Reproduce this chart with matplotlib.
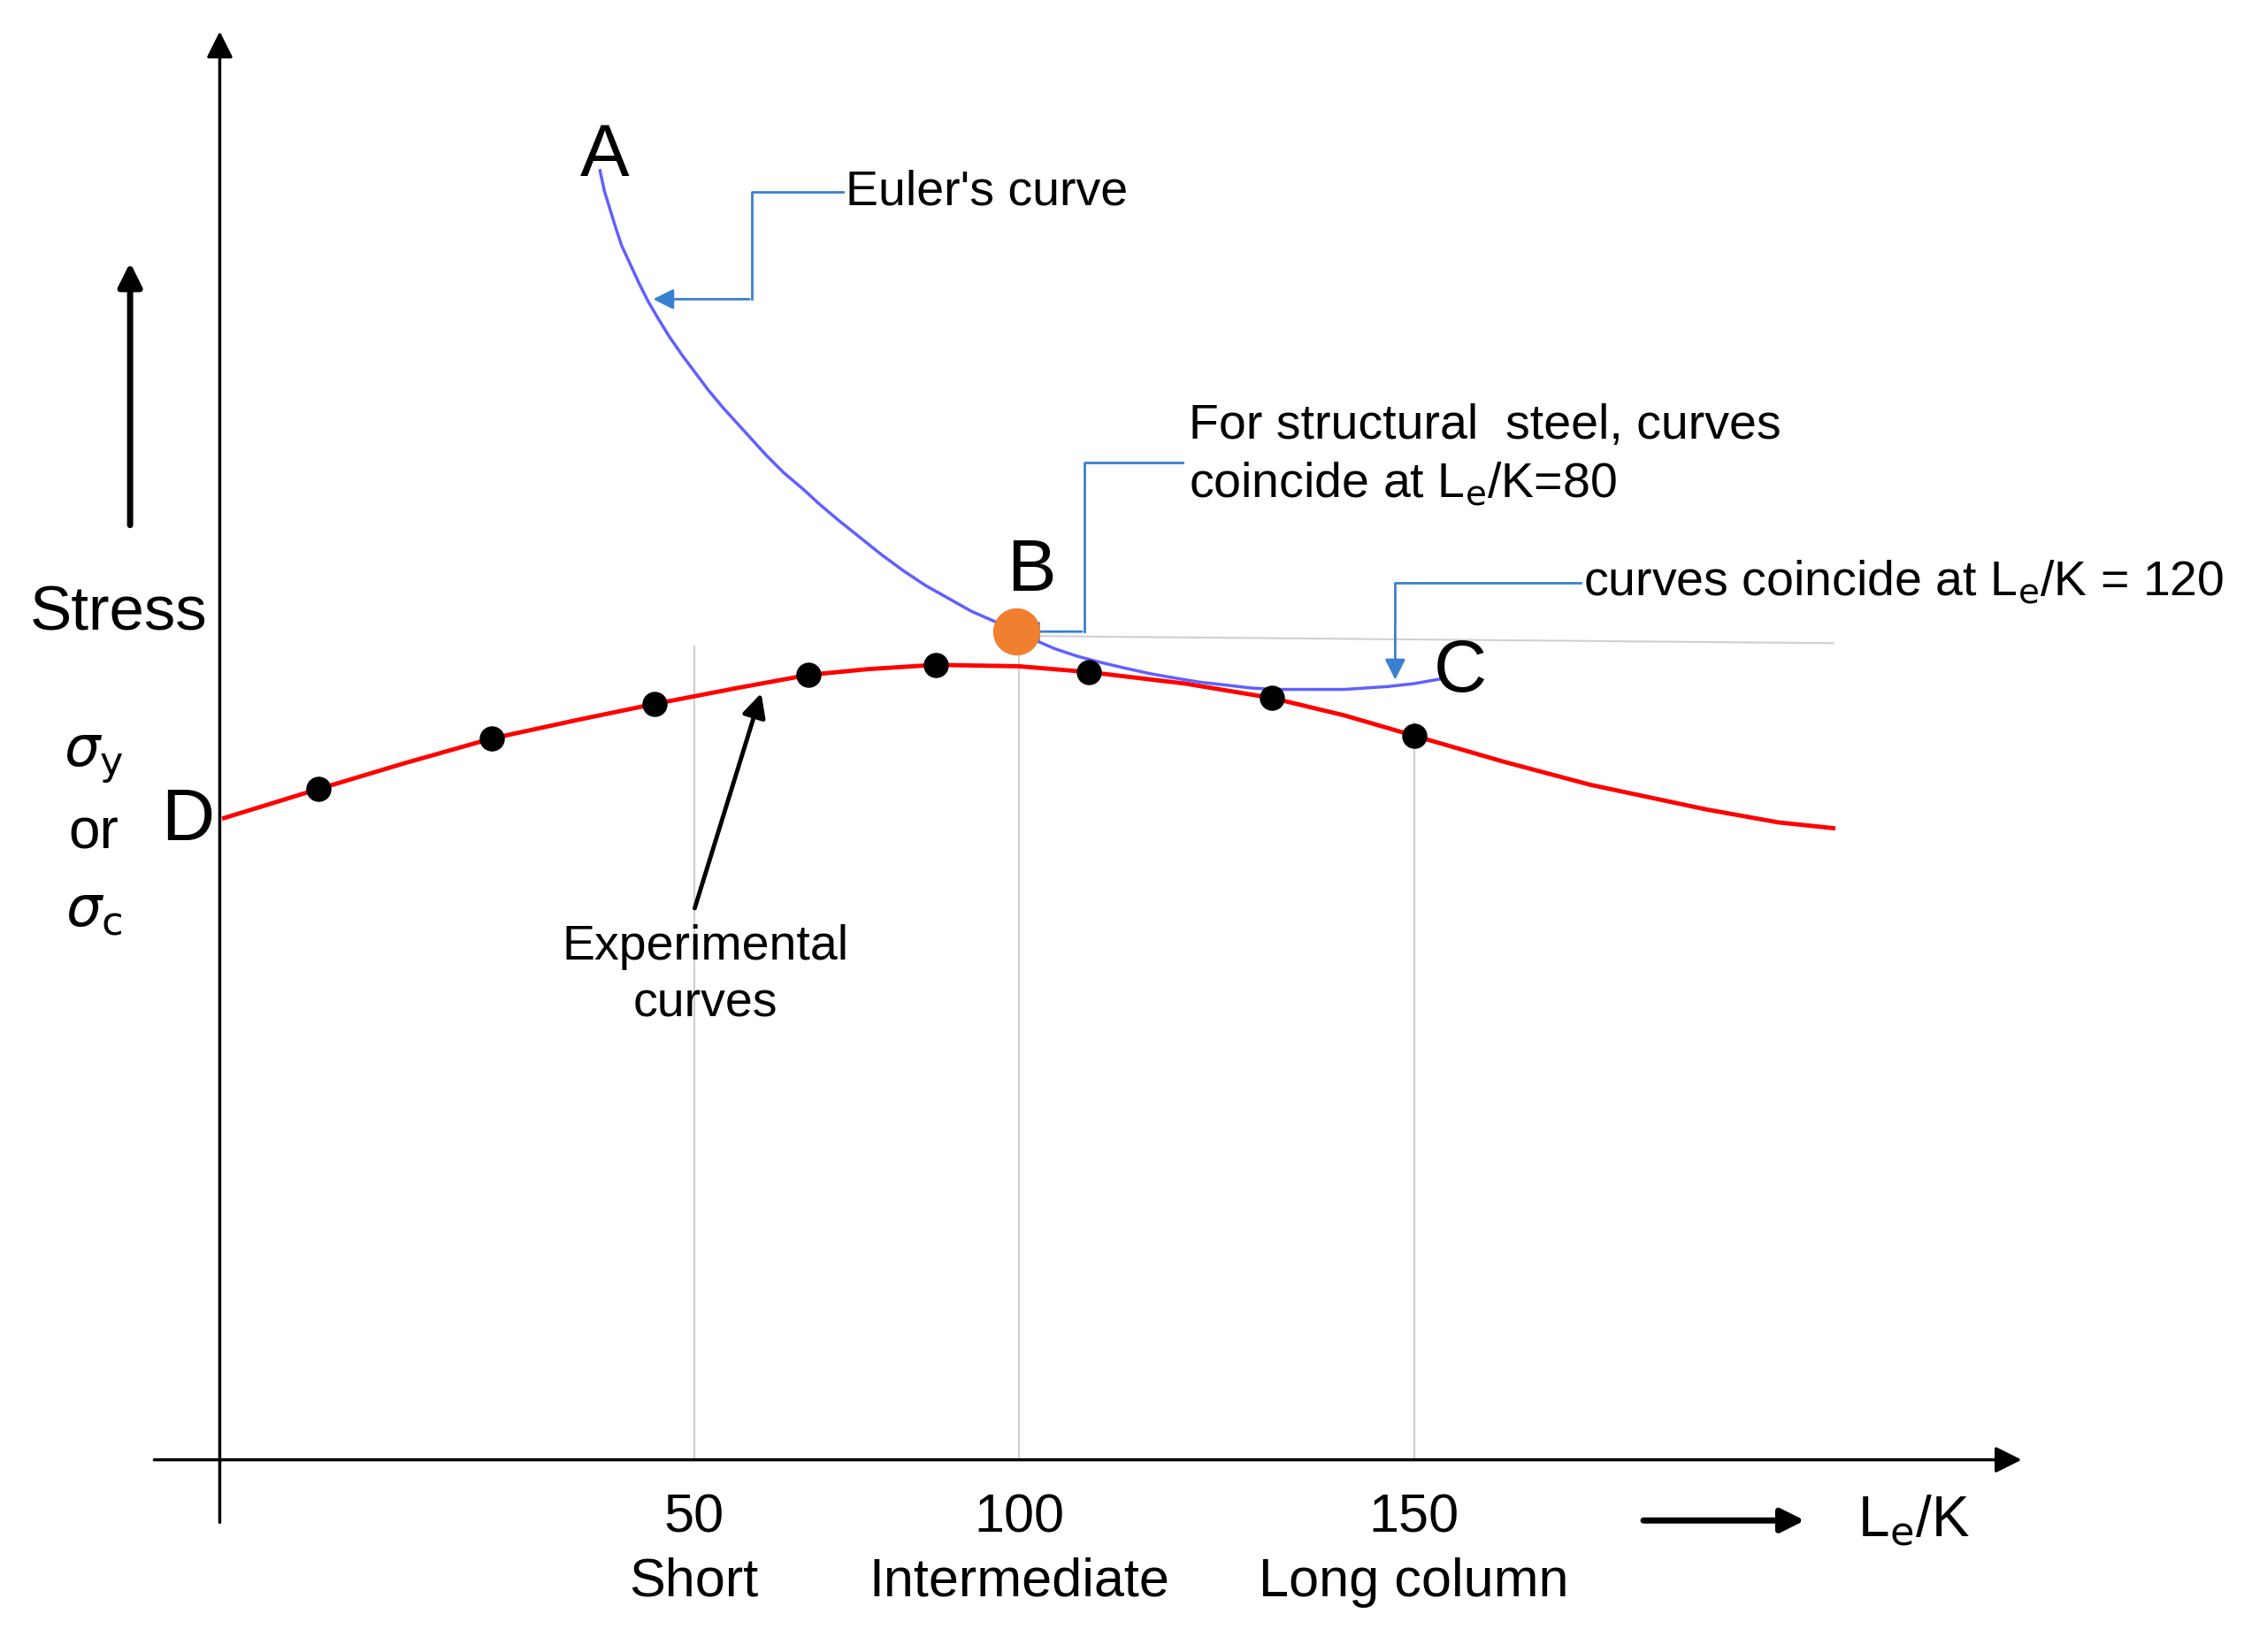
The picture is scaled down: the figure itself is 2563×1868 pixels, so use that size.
import matplotlib.pyplot as plt
import numpy as np

plt.rcParams['font.family'] = ['Liberation Sans', 'DejaVu Sans']

# values (image pixels of a 1568x1143 view)
def fx(px):
    return (np.asarray(px, float) - 255) / 4.5   # L/K units

def fy(py):
    return 1010 - np.asarray(py, float)          # stress, arbitrary

exp_pts_x = [220, 340, 453, 559, 647, 753, 880, 978]
exp_pts_y = [546, 511, 487, 467, 460, 465, 483, 509]
red_x = [155, 220, 280, 340, 400, 453, 510, 559, 600, 647, 705, 753, 820, 880,
         930, 978, 1040, 1100, 1180, 1230, 1268]
red_y = [566, 546, 528, 511, 498, 487, 476, 467, 463, 460, 461, 465, 473, 483,
         495, 509, 527, 543, 560, 569, 573]
blue_x = [415, 418, 422, 426, 430, 436, 442, 448, 455, 463, 472, 481, 490, 500,
          510, 520, 530, 542, 555, 567, 580, 595, 610, 625, 640, 656, 672, 688,
          703, 716, 730, 745, 760, 777, 795, 812, 830, 848, 865, 882, 900, 915,
          930, 945, 960, 978, 995]
blue_y = [118, 132, 145, 158, 170, 183, 196, 208, 220, 233, 246, 258, 270, 282,
          293, 304, 315, 327, 338, 349, 360, 372, 384, 395, 405, 414, 423, 430,
          437, 443, 449, 454, 458, 462, 466, 469, 472, 474, 476, 477, 477, 477,
          477, 476, 475, 473, 470]
tick_px = [480, 705, 978]
tick_labels = ['50\nShort', '100\nIntermediate', '150\nLong column']

fig = plt.figure(figsize=(25.63, 18.68), dpi=100)
ax = fig.add_axes([0, 0, 1, 1])
ax.set_xlim(fx(0), fx(1568))
ax.set_ylim(fy(1143), fy(0))
ax.axis('off')

grey = '#d0d0d0'
blue = '#3a80d0'
# grid-ish guides
ax.plot([fx(480)] * 2, [fy(447), fy(1010)], color=grey, lw=1.5)
ax.plot([fx(705)] * 2, [fy(440), fy(1010)], color=grey, lw=1.5)
ax.plot([fx(978)] * 2, [fy(500), fy(1010)], color=grey, lw=1.5)
ax.plot([fx(705), fx(1268)], [fy(440), fy(445)], color=grey, lw=1.5)

# axes with arrows
arw = dict(arrowstyle='-|>', color='black', lw=2.5, mutation_scale=45)
ax.annotate('', xy=(fx(152), fy(20)), xytext=(fx(152), fy(1055)), arrowprops=arw)
ax.annotate('', xy=(fx(1400), fy(1010)), xytext=(fx(105), fy(1010)), arrowprops=arw)
ax.annotate('', xy=(fx(90), fy(180)), xytext=(fx(90), fy(365)),
            arrowprops=dict(arrowstyle='-|>', color='black', lw=5, mutation_scale=40))
ax.annotate('', xy=(fx(1250), fy(1052)), xytext=(fx(1135), fy(1052)),
            arrowprops=dict(arrowstyle='-|>', color='black', lw=5, mutation_scale=40))

# curves
ax.plot(fx(red_x), fy(red_y), color='red', lw=3.5)
ax.plot(fx(blue_x), fy(blue_y), color='#6060ff', lw=2.5)
ax.scatter(fx(exp_pts_x), fy(exp_pts_y), s=380, color='black', zorder=5)
ax.scatter(fx(703), fy(437), s=1400, color='#f08030', zorder=5)

# tick labels
for p, lab in zip(tick_px, tick_labels):
    ax.text(fx(p), fy(1033), lab, ha='center', va='top', fontsize=44, linespacing=1.35)
ax.text(fx(1285), fy(1052), r'L$_{\rm e}$/K', fontsize=46, va='center')

# letters
big = 60
ax.text(fx(418), fy(108), 'A', fontsize=big, ha='center', va='center')
ax.text(fx(713), fy(395), 'B', fontsize=big, ha='center', va='center')
ax.text(fx(1010), fy(465), 'C', fontsize=big, ha='center', va='center')
ax.text(fx(130), fy(568), 'D', fontsize=big, ha='center', va='center')
ax.text(fx(82), fy(425), 'Stress', fontsize=51, ha='center', va='center')
ax.text(fx(65), fy(525), r'$\sigma_{\rm y}$', fontsize=46, ha='center', va='center')
ax.text(fx(65), fy(577), 'or', fontsize=46, ha='center', va='center')
ax.text(fx(65), fy(630), r'$\sigma_{\rm c}$', fontsize=46, ha='center', va='center')

# annotations
ann = 40
ax.text(fx(585), fy(133), "Euler's curve", fontsize=ann, va='center')
ax.plot(fx([583, 520, 520]), fy([133, 133, 207]), color=blue, lw=2)
ax.annotate('', xy=(fx(450), fy(207)), xytext=(fx(520), fy(207)),
            arrowprops=dict(arrowstyle='-|>', color=blue, lw=2, mutation_scale=35))

ax.text(fx(822), fy(315), 'For structural  steel, curves\ncoincide at L$_{\\rm e}$/K=80',
        fontsize=ann, va='center', linespacing=1.3)
ax.plot(fx([818, 750, 750]), fy([320, 320, 437]), color=blue, lw=2)
ax.annotate('', xy=(fx(703), fy(437)), xytext=(fx(750), fy(437)),
            arrowprops=dict(arrowstyle='-|>', color=blue, lw=2, mutation_scale=35))

ax.text(fx(1095), fy(403), 'curves coincide at L$_{\\rm e}$/K = 120', fontsize=ann, va='center')
ax.plot(fx([1093, 965, 965]), fy([403, 403, 430]), color=blue, lw=2)
ax.annotate('', xy=(fx(965), fy(472)), xytext=(fx(965), fy(430)),
            arrowprops=dict(arrowstyle='-|>', color=blue, lw=2, mutation_scale=35))

ax.text(fx(488), fy(675), 'Experimental\ncurves', fontsize=ann, ha='center', va='center',
        linespacing=1.3)
ax.annotate('', xy=(fx(527), fy(478)), xytext=(fx(480), fy(630)),
            arrowprops=dict(arrowstyle='-|>', color='black', lw=3.5, mutation_scale=40))

fig.savefig('out.png', dpi=100)
